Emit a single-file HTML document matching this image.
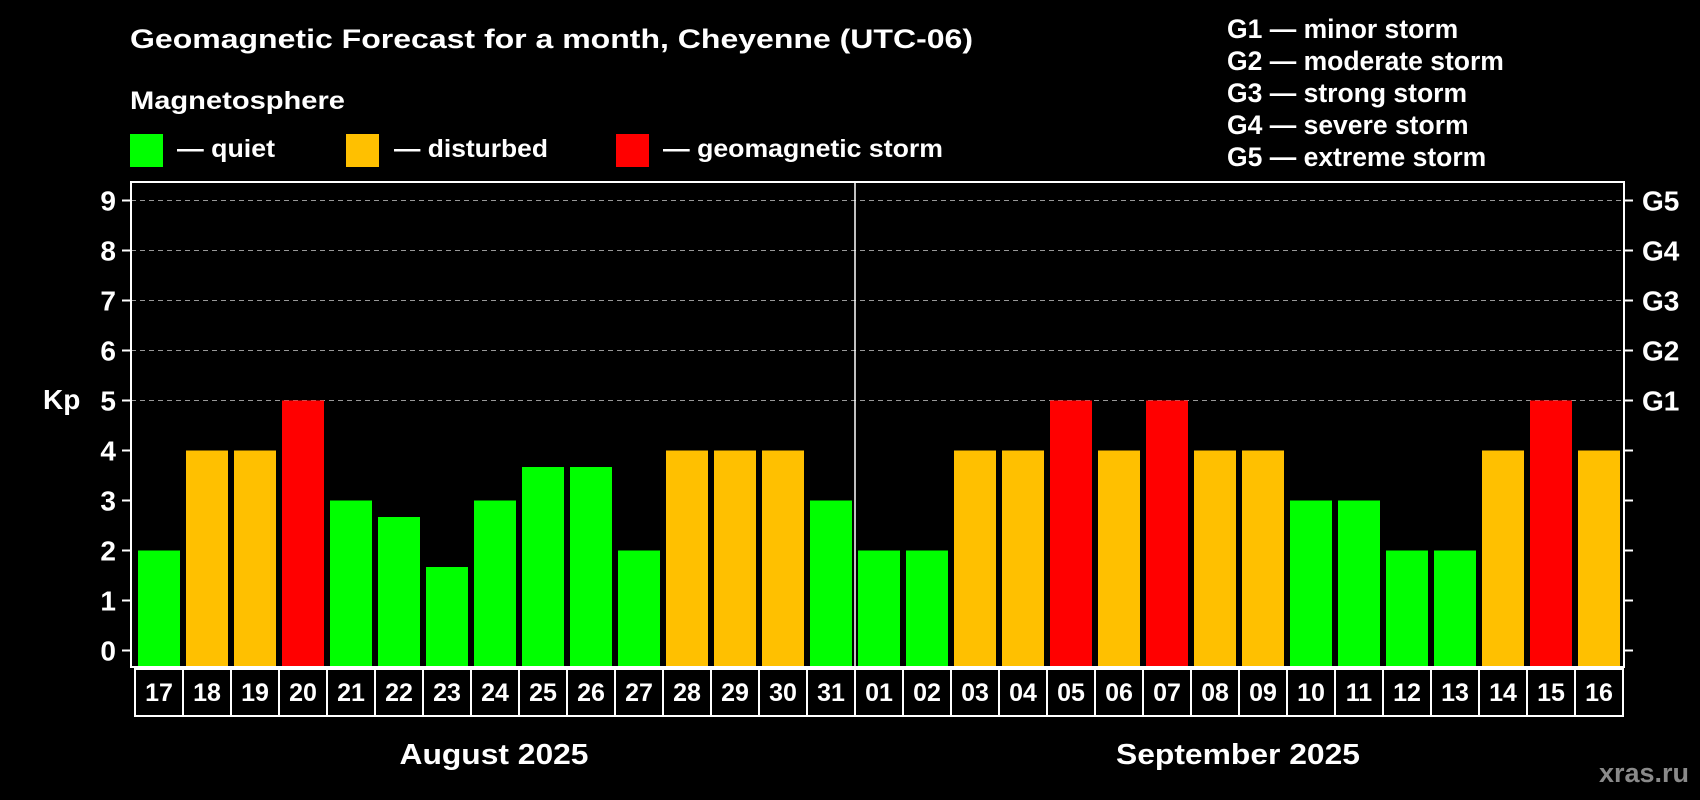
<!DOCTYPE html>
<html><head><meta charset="utf-8"><style>
html,body{margin:0;padding:0;background:#000;width:1700px;height:800px;overflow:hidden}
svg text{font-family:"Liberation Sans",Arial,sans-serif;font-weight:bold;fill:#fff}
</style></head><body>
<svg id="chart" width="1700" height="800" xmlns="http://www.w3.org/2000/svg">
<rect width="1700" height="800" fill="#000"/>
<text x="130" y="48" font-size="27" textLength="843" lengthAdjust="spacingAndGlyphs">Geomagnetic Forecast for a month, Cheyenne (UTC-06)</text>
<text x="130" y="109" font-size="25" textLength="215" lengthAdjust="spacingAndGlyphs">Magnetosphere</text>
<rect x="130" y="134" width="33" height="33" fill="#00ff00"/>
<text x="177" y="157" font-size="25" textLength="98" lengthAdjust="spacingAndGlyphs">— quiet</text>
<rect x="346" y="134" width="33" height="33" fill="#ffc000"/>
<text x="394" y="157" font-size="25" textLength="154" lengthAdjust="spacingAndGlyphs">— disturbed</text>
<rect x="616" y="134" width="33" height="33" fill="#ff0000"/>
<text x="663" y="157" font-size="25" textLength="280" lengthAdjust="spacingAndGlyphs">— geomagnetic storm</text>
<g font-size="26.5">
<text x="1227" y="38">G1 — minor storm</text>
<text x="1227" y="70">G2 — moderate storm</text>
<text x="1227" y="102">G3 — strong storm</text>
<text x="1227" y="134">G4 — severe storm</text>
<text x="1227" y="166">G5 — extreme storm</text>
</g>
<text x="43" y="409" font-size="28">Kp</text>
<g id="grid"></g>
<g id="bars"></g>
<rect x="131" y="182" width="1493" height="485" fill="none" stroke="#fff" stroke-width="2"/>
<line x1="855" y1="182" x2="855" y2="667" stroke="#fff" stroke-width="1.5"/>
<g id="axes"></g>
<text x="494" y="764" font-size="29" text-anchor="middle" textLength="189" lengthAdjust="spacingAndGlyphs">August 2025</text>
<text x="1238" y="764" font-size="29" text-anchor="middle" textLength="244" lengthAdjust="spacingAndGlyphs">September 2025</text>
<text x="1689" y="782" font-size="27" text-anchor="end" style="fill:#8a8a8a">xras.ru</text>
</svg>
<script>
const days = ["17","18","19","20","21","22","23","24","25","26","27","28","29","30","31","01","02","03","04","05","06","07","08","09","10","11","12","13","14","15","16"];
const kpValues = [2,4,4,5,3,2.67,1.67,3,3.67,3.67,2,4,4,4,3,2,2,4,4,5,4,5,4,4,3,3,2,2,4,5,4];
const yTicks = [0,1,2,3,4,5,6,7,8,9];
const gLabels = ["G1","G2","G3","G4","G5"];
const NS="http://www.w3.org/2000/svg";
const x0=138, pitch=48, bw=42, y0=650.5, unit=50, bottom=667;
const xs=i=>x0+i*pitch;
const ys=v=>y0-v*unit;
function mk(tag,attrs,parent){const e=document.createElementNS(NS,tag);for(const k in attrs)e.setAttribute(k,attrs[k]);parent.appendChild(e);return e;}
const grid=document.getElementById('grid'),bars=document.getElementById('bars'),axes=document.getElementById('axes');
yTicks.forEach(t=>{
  if(t>=5){const l=mk('line',{x1:131,x2:1624,y1:ys(t),y2:ys(t),stroke:'#999','stroke-dasharray':'5,4','stroke-width':1},grid);
  
  }
  const tl=mk('line',{x1:122,x2:131,y1:ys(t),y2:ys(t),stroke:'#fff','stroke-width':2},axes);
  
  
  const tr=mk('line',{x1:1624,x2:1633,y1:ys(t),y2:ys(t),stroke:'#fff','stroke-width':2},axes);
  
  
  const tx=mk('text',{x:116,y:ys(t)+10,'font-size':28,'text-anchor':'end'},axes);tx.textContent=t;
  
  
});
gLabels.forEach((g,i)=>{
  const tx=mk('text',{x:1642,y:ys(5+i)+10,'font-size':28},axes);tx.textContent=g;
  
  
});
kpValues.forEach((v,i)=>{
  const c=v>=5?'#ff0000':(v>=4?'#ffc000':'#00ff00');
  const r=mk('rect',{x:xs(i),y:ys(v),width:bw,height:bottom-ys(v),fill:c},bars);
  
  
  const b=mk('rect',{x:xs(i)-3,y:669,width:pitch,height:47,fill:'none',stroke:'#fff','stroke-width':2},axes);
  
  
  const tx=mk('text',{x:xs(i)+bw/2,y:701,'font-size':25,'text-anchor':'middle'},axes);tx.textContent=days[i];
  
  
});
</script>
</body></html>
